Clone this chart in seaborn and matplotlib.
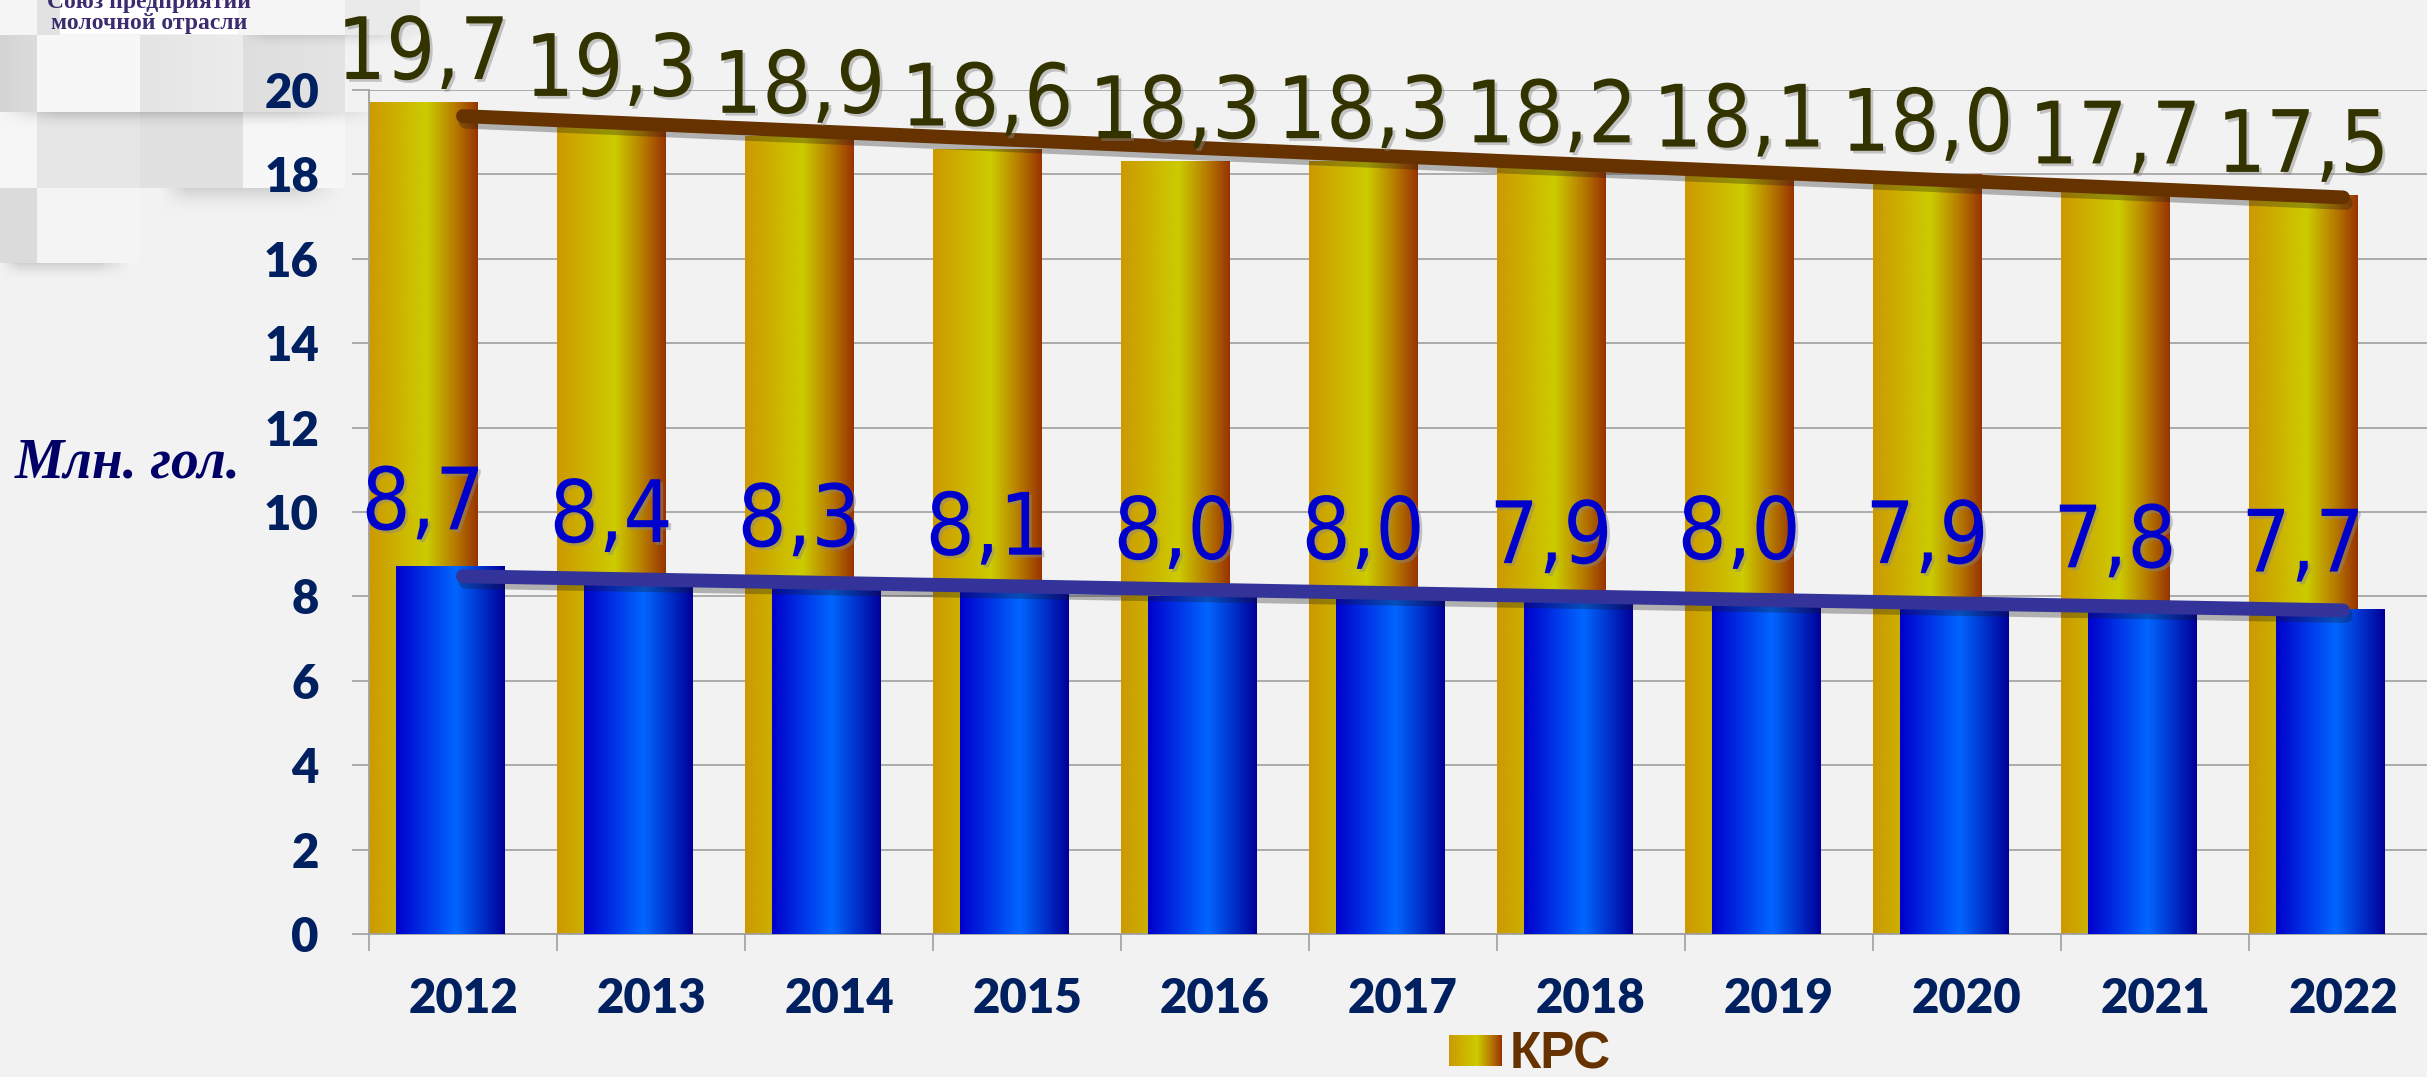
import numpy as np
import pandas as pd
import matplotlib
matplotlib.use("Agg")
import matplotlib.pyplot as plt
import matplotlib.patheffects as pe
from matplotlib.colors import LinearSegmentedColormap
import seaborn as sns

# ---------------- data ----------------
years = ["2012", "2013", "2014", "2015", "2016", "2017", "2018", "2019", "2020", "2021", "2022"]
krs = [19.7, 19.3, 18.9, 18.6, 18.3, 18.3, 18.2, 18.1, 18.0, 17.7, 17.5]
cows = [8.7, 8.4, 8.3, 8.1, 8.0, 8.0, 7.9, 8.0, 7.9, 7.8, 7.7]
y_ticks = [0, 2, 4, 6, 8, 10, 12, 14, 16, 18, 20]
legend_label = "КРС"
y_label = "Млн. гол."
logo_lines = ["Союз предприятий", "молочной отрасли"]

# ---------------- figure ----------------
W, H, DPI = 2427, 1077, 100
sns.set_theme(style="white")
plt.rcParams["font.family"] = ["DejaVu Sans"]

fig = plt.figure(figsize=(W / DPI, H / DPI), dpi=DPI, facecolor="#F2F2F2")

# decorative tiled background (top-left corner)
bg = np.full((H, W, 3), 242 / 255.0)


def tile(x0, x1, y0, y1, v0, v1=None):
    v1 = v0 if v1 is None else v1
    ramp = np.linspace(v0, v1, x1 - x0) / 255.0
    bg[y0:y1, x0:x1, :] = ramp[None, :, None]


def shade(x0, x1, y0, depth, s):
    k = np.arange(depth)
    f = 1 - s * (1 - k / depth) ** 2
    xr = np.linspace(0, 1, x1 - x0)
    taper = np.clip(np.minimum(xr / 0.15, (1 - xr) / 0.25), 0, 1)
    m = 1 - (1 - f[:, None]) * taper[None, :]
    bg[y0:y0 + depth, x0:x1, :] *= m[:, :, None]


tile(0, 37, 0, 35, 245)
tile(37, 60, 0, 35, 226)
tile(238, 345, 0, 35, 245)
tile(345, 420, 0, 35, 234)
tile(0, 37, 35, 112, 212, 220)
tile(37, 140, 35, 112, 247)
tile(140, 243, 35, 112, 228, 236)
tile(243, 345, 35, 112, 222, 228)
shade(240, 420, 35, 14, 0.10)
tile(0, 37, 112, 188, 246)
tile(37, 140, 112, 188, 230)
tile(140, 243, 112, 188, 225)
tile(243, 345, 112, 188, 247)
shade(0, 390, 112, 18, 0.16)
tile(0, 37, 188, 263, 219)
tile(37, 140, 188, 263, 244)
shade(160, 340, 188, 28, 0.13)
shade(0, 130, 263, 18, 0.14)
tile(60, 238, 0, 34, 255)  # logo box
fig.figimage(bg, 0, 0, origin="upper", zorder=-5)

for i, line in enumerate(logo_lines):
    fig.text(149 / W, 1 - (8 + 21 * i) / H, line, ha="center", va="baseline",
             family=["Liberation Serif", "DejaVu Serif"], weight="bold",
             size=17, color="#3B2C6E")

# ---------------- axes ----------------
ax_left, ax_top, ax_zero = 369, 90, 934
ax = fig.add_axes([ax_left / W, (H - ax_zero) / H, 1 - ax_left / W, (ax_zero - ax_top) / H])
ax.set_facecolor("none")

n = len(years)
idx = np.arange(n)
bar_w = 0.575
gold_off = -0.2125
blue_off = -0.0685

df = pd.DataFrame({"pos_g": idx + gold_off, "pos_b": idx + blue_off, "krs": krs, "cows": cows})

sns.barplot(data=df, x="pos_g", y="krs", native_scale=True, orient="x", width=bar_w,
            color="#CC9900", saturation=1, ax=ax, zorder=2, linewidth=0)
n_gold = len(ax.patches)
sns.barplot(data=df, x="pos_b", y="cows", native_scale=True, orient="x", width=bar_w,
            color="#0033CC", saturation=1, ax=ax, zorder=3, linewidth=0)
gold_patches = ax.patches[:n_gold]
blue_patches = ax.patches[n_gold:]

gold_cmap = LinearSegmentedColormap.from_list(
    "gold", [(0, "#CC9900"), (0.53, "#CCCC00"), (0.78, "#B87F00"), (1, "#993300")])
blue_cmap = LinearSegmentedColormap.from_list(
    "blue", [(0, "#0000CC"), (0.55, "#0066FF"), (1, "#000099")])
gold_grad = gold_cmap(np.linspace(0, 1, 256))[None, :, :3]
blue_grad = blue_cmap(np.linspace(0, 1, 256))[None, :, :3]


def paint(patches, grad, z):
    for p in patches:
        x0, w, h = p.get_x(), p.get_width(), p.get_height()
        ax.imshow(grad, extent=(x0, x0 + w, 0, h), aspect="auto", zorder=z,
                  interpolation="bilinear")


paint(gold_patches, gold_grad, 2.1)
paint(blue_patches, blue_grad, 3.1)

# linear trend lines
shadow = [pe.SimpleLineShadow(offset=(2, -4), shadow_color="k", alpha=0.3), pe.Normal()]
sns.regplot(x=idx.astype(float), y=np.array(krs), scatter=False, ci=None, truncate=True, ax=ax,
            line_kws=dict(color="#663300", lw=10, solid_capstyle="round", zorder=5,
                          path_effects=shadow))
sns.regplot(x=idx.astype(float), y=np.array(cows), scatter=False, ci=None, truncate=True, ax=ax,
            line_kws=dict(color="#333399", lw=10, solid_capstyle="round", zorder=5,
                          path_effects=shadow))

# value labels (centred on the gold bars)
txt_shadow = [pe.withSimplePatchShadow(offset=(2, -2), shadow_rgbFace="#888888", alpha=0.45)]
for p, v in zip(gold_patches, krs):
    ax.annotate(f"{v:.1f}".replace(".", ","), xy=(p.get_x() + p.get_width() / 2, v),
                xytext=(0, 17), textcoords="offset points", ha="center", va="baseline",
                fontsize=62, fontstretch="condensed", color="#333300", zorder=7,
                path_effects=txt_shadow, annotation_clip=False)
for p, v in zip(gold_patches, cows):
    ax.annotate(f"{v:.1f}".replace(".", ","), xy=(p.get_x() + p.get_width() / 2, v),
                xytext=(0, 27), textcoords="offset points", ha="center", va="baseline",
                fontsize=62, fontstretch="condensed", color="#0000CC", zorder=7,
                path_effects=txt_shadow, annotation_clip=False)

# axis styling
ax.set_xlim(-0.5, (W - 463) / 188.0)
ax.set_ylim(0, 20)
ax.set_yticks(y_ticks)
ax.set_xticks(idx)
ax.set_xticklabels(years)
ax.set_xticks(idx - 0.5, minor=True)
ax.set_xlabel("")
ax.set_ylabel("")
ax.yaxis.grid(True, color="#A6A6A6", lw=1.3)
ax.xaxis.grid(False)
ax.set_axisbelow(True)
for s in ["top", "right"]:
    ax.spines[s].set_visible(False)
for s in ["left", "bottom"]:
    ax.spines[s].set_color("#A0A0A0")
    ax.spines[s].set_linewidth(1.3)
ax.tick_params(axis="y", which="major", length=12, width=1.2, color="#A0A0A0", pad=24,
               labelsize=34, labelcolor="#002060", left=True)
ax.tick_params(axis="x", which="major", length=0, pad=31, labelsize=34, labelcolor="#002060",
               bottom=True)
ax.tick_params(axis="x", which="minor", length=12, width=1.2, color="#A0A0A0", bottom=True)
for lab in ax.get_xticklabels() + ax.get_yticklabels():
    lab.set_family(["Lato", "DejaVu Sans"])
    lab.set_fontweight("heavy")

fig.text(15 / W, 1 - 464 / H, y_label, ha="left", va="center",
         family=["Liberation Serif", "DejaVu Serif"], style="italic", weight="bold",
         size=40, color="#000066")

# legend (only the cattle series)
leg = fig.legend(handles=[gold_patches[0]], labels=[legend_label], loc="center",
                 bbox_to_anchor=(1530 / W, 22 / H), frameon=False,
                 prop=dict(family=["Liberation Sans", "DejaVu Sans"], weight="bold", size=37),
                 labelcolor="#663300", handlelength=1.02, handleheight=0.55,
                 handletextpad=0.16)

fig.canvas.draw()
hb = leg.legend_handles[0].get_window_extent(fig.canvas.get_renderer())
hax = fig.add_axes(hb.transformed(fig.transFigure.inverted()).bounds, zorder=10)
hax.imshow(gold_grad, aspect="auto", interpolation="bilinear")
hax.axis("off")

fig.savefig("out.png", dpi=DPI, facecolor=fig.get_facecolor())
